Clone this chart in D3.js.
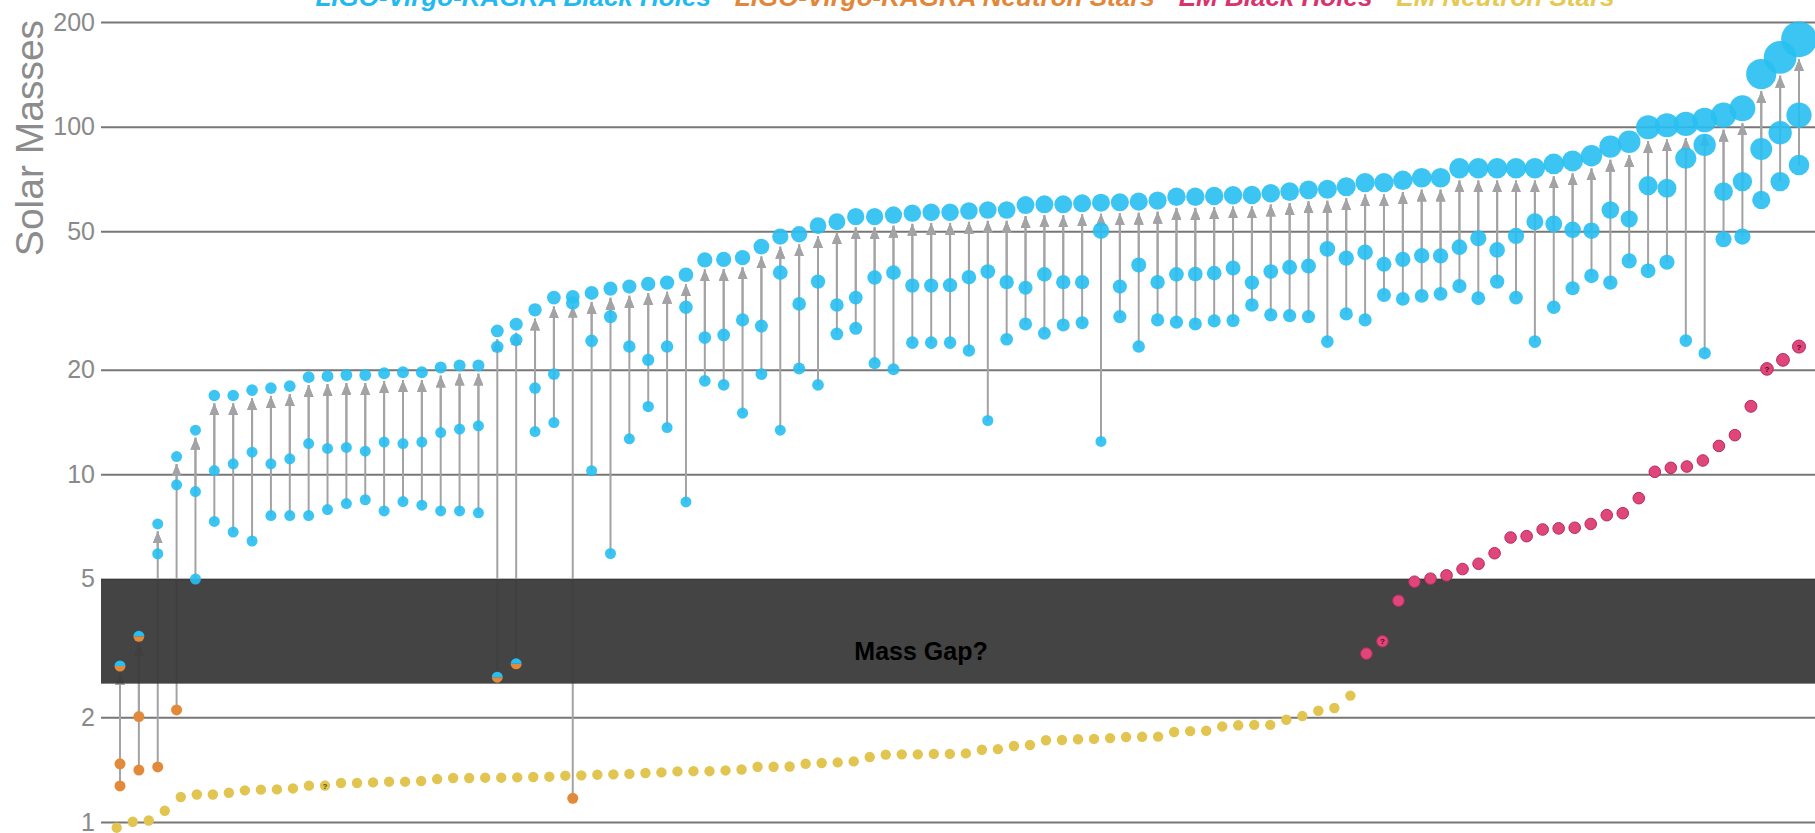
<!DOCTYPE html>
<html>
<head>
<meta charset="utf-8">
<script src="https://cdn.jsdelivr.net/npm/d3@7"></script>
<style>
  body { margin: 0; background: #fff; }
  svg { display: block; font-family: "Liberation Sans", Arial, Helvetica, sans-serif; }
</style>
</head>
<body>
<svg id="chart" width="1815" height="833"></svg>
<script>
// Gravitational-wave mergers: remnant mass and the two component masses (solar masses)
const gwFinal = [2.81,3.42,7.2,11.25,13.4,16.85,16.85,17.46,17.7,17.93,
  19.03,19.16,19.3,19.3,19.54,19.67,19.67,20.28,20.55,20.55,
  25.85,27.03,29.72,32.24,32.4,33.25,34.2,34.67,35.3,35.6,
  37.5,41.4,41.5,42.0,45.2,48.3,49.05,51.9,53.3,55.1,
  55.1,55.7,56.4,56.75,56.75,57.2,57.6,57.6,59.5,59.8,
  59.8,60.2,60.45,60.6,60.86,61.3,62.9,62.9,63.2,63.5,
  63.6,64.35,65.04,65.8,66.07,67.2,69.0,69.0,70.1,71.3,
  71.3,75.9,75.9,75.9,75.9,75.9,78.1,79.7,82.5,87.6,
  90.5,99.6,100.9,101.8,104.5,108.0,112.9,141.7,158.3,178.4];
const gwPrimary = [1.47,2.01,5.91,9.33,8.92,10.25,10.72,11.58,10.72,11.08,
  12.26,11.87,11.95,11.66,12.38,12.26,12.38,13.19,13.49,13.79,
  23.26,24.36,17.7,19.42,31.1,24.2,28.43,23.3,21.34,23.3,
  30.25,24.74,25.18,27.8,26.7,38.03,30.92,35.84,30.7,32.24,
  36.8,38.03,34.9,34.9,35.0,36.9,38.3,35.7,34.4,37.6,
  35.7,35.7,50.2,34.67,40.03,35.7,37.6,37.7,37.9,39.2,
  35.6,38.3,39.4,39.76,44.5,41.84,43.5,40.2,41.5,42.56,
  42.5,45.0,47.76,44.2,48.5,53.3,52.5,50.5,50.2,57.6,
  54.3,67.65,66.5,81.1,88.6,65.04,69.5,86.3,96.1,108.0];
const gwSecondary = [1.27,1.41,1.44,2.10,5.0,7.32,6.82,6.43,7.61,7.61,
  7.61,7.92,8.24,8.45,7.85,8.35,8.15,7.85,7.85,7.75,
  2.61,2.85,13.27,14.09,1.17,10.24,5.92,12.65,15.66,13.63,
  8.33,18.57,18.08,15.0,19.42,13.4,20.15,18.08,25.34,26.3,
  20.88,20.07,23.93,23.93,23.93,22.7,14.28,24.47,27.08,25.46,
  26.9,27.3,12.43,28.43,23.3,27.8,27.4,27.08,27.62,27.7,
  30.7,28.75,28.6,28.43,24.09,28.94,27.8,32.8,31.96,32.6,
  33.04,34.8,32.1,35.84,32.24,24.09,30.25,34.3,37.2,35.6,
  41.1,38.5,40.75,24.25,22.3,47.45,48.3,61.55,69.5,77.6];

// Electromagnetically observed compact objects (solar masses)
const emNeutronStars = [0.963,1.002,1.01,1.077,1.18,1.20,1.20,1.214,1.233,1.239,
  1.241,1.249,1.272,1.273,1.295,1.295,1.30,1.306,1.306,1.312,
  1.329,1.338,1.338,1.341,1.341,1.344,1.347,1.35,1.359,1.362,
  1.368,1.371,1.375,1.383,1.389,1.398,1.40,1.40,1.407,1.416,
  1.442,1.442,1.444,1.471,1.478,1.484,1.494,1.538,1.562,1.565,
  1.565,1.57,1.57,1.575,1.614,1.62,1.654,1.665,1.718,1.721,
  1.73,1.734,1.743,1.755,1.758,1.76,1.815,1.826,1.83,1.883,
  1.897,1.903,1.903,1.968,2.017,2.089,2.127,2.31];
const emBlackHoles = [3.05,3.31,4.33,4.91,5.01,5.12,5.34,5.53,5.93,6.58,
  6.64,6.94,6.99,7.02,7.20,7.63,7.73,8.54,10.17,10.44,
  10.53,10.96,12.07,12.96,15.69,20.1,21.34,23.31];
// Objects whose nature is uncertain, marked with "?"
const emNSUncertain = [13];
const emBHUncertain = [1, 25, 27];

const yTicks = [1, 2, 5, 10, 20, 50, 100, 200];
const massGap = [2.5, 5];
const legendLabels = ["LIGO-Virgo-KAGRA Black Holes", "LIGO-Virgo-KAGRA Neutron Stars", "EM Black Holes", "EM Neutron Stars"];
const legendColors = ["#22b9ef", "#e0873a", "#d8336e", "#e4ca55"];

const COL = { bh: "#27bff2", ns: "#e38a3a", emBH: "#e0457b", emBHStroke: "#b32d5c", emNS: "#e2c550", line: "#a3a3a6" };

const W = 1815, H = 833, plotLeft = 101;
const svg = d3.select("#chart");

const y = d3.scaleLog().domain([1, 200]).range([822, 22]);
const xGW = d3.scalePoint().domain(d3.range(gwFinal.length)).range([120, 1799]);
const emAll = emNeutronStars.map((m, i) => ({ m, kind: "ns", q: emNSUncertain.includes(i) }))
  .concat(emBlackHoles.map((m, i) => ({ m, kind: "bh", q: emBHUncertain.includes(i) })));
const xEM = d3.scalePoint().domain(d3.range(emAll.length)).range([116.7, 1799]);
const rad = m => Math.max(5.5, 4.5 + 0.075 * m);
const kindOf = m => m < 2.5 ? "ns" : (m < 3.5 ? "mixed" : "bh");

// Y axis with full-width gridlines
const axis = svg.append("g")
  .attr("transform", `translate(${plotLeft},0)`)
  .call(d3.axisLeft(y).tickValues(yTicks).tickFormat(d3.format("d"))
    .tickSize(-(W - plotLeft)).tickPadding(6));
axis.select(".domain").remove();
axis.selectAll(".tick line").attr("stroke", "#777").attr("stroke-width", 2);
axis.selectAll(".tick text").attr("fill", "#8a8a8a").attr("font-size", 25)
  .attr("font-family", "'Liberation Sans', Arial, sans-serif");

svg.append("text")
  .attr("transform", `translate(43,138) rotate(-90)`)
  .attr("text-anchor", "middle")
  .attr("fill", "#8c8c8c").attr("font-size", 39)
  .text("Solar Masses");

// Arrow marker for merger lines
svg.append("defs").append("marker")
  .attr("id", "arrow").attr("viewBox", "0 -5 12 10")
  .attr("refX", 12).attr("refY", 0)
  .attr("markerWidth", 12).attr("markerHeight", 10)
  .attr("markerUnits", "userSpaceOnUse").attr("orient", "auto")
  .append("path").attr("d", "M0,-5L12,0L0,5Z").attr("fill", COL.line);

// Lines from each component up to the remnant
const links = [];
gwFinal.forEach((f, i) => {
  [gwPrimary[i], gwSecondary[i]].forEach(c => {
    const y1 = y(c), y2 = y(f) + rad(f) + 2;
    if (y1 - y2 > 4) links.push({ x: xGW(i), y1, y2 });
  });
});
svg.append("g").selectAll("line").data(links).join("line")
  .attr("x1", d => d.x).attr("x2", d => d.x)
  .attr("y1", d => d.y1).attr("y2", d => d.y2)
  .attr("stroke", COL.line).attr("stroke-width", 2)
  .attr("marker-end", "url(#arrow)");

// Mass gap band
svg.append("rect")
  .attr("x", plotLeft).attr("width", W - plotLeft)
  .attr("y", y(massGap[1])).attr("height", y(massGap[0]) - y(massGap[1]))
  .attr("fill", "#3a3a3a").attr("opacity", 0.95);
svg.append("text")
  .attr("x", 921).attr("y", 660).attr("text-anchor", "middle")
  .attr("font-size", 25).attr("font-weight", "bold").attr("fill", "#000")
  .text("Mass Gap?");

// EM objects
const em = svg.append("g");
em.selectAll("circle").data(emAll).join("circle")
  .attr("cx", (d, i) => xEM(i)).attr("cy", d => y(d.m))
  .attr("r", d => d.kind === "ns" ? 5.2 : rad(d.m) + 0.3)
  .attr("fill", d => d.kind === "ns" ? COL.emNS : COL.emBH)
  .attr("stroke", d => d.kind === "ns" ? "none" : COL.emBHStroke)
  .attr("stroke-width", 1);
em.selectAll("text").data(emAll.map((d, i) => ({ ...d, i })).filter(d => d.q)).join("text")
  .attr("x", d => xEM(d.i)).attr("y", d => y(d.m) + 3)
  .attr("text-anchor", "middle").attr("font-size", 8).attr("font-weight", "bold")
  .attr("fill", d => d.kind === "ns" ? "#5a4a10" : "#4a0820")
  .text("?");

// GW component and remnant masses
const dots = [];
gwFinal.forEach((f, i) => {
  dots.push({ i, m: gwPrimary[i] });
  dots.push({ i, m: gwSecondary[i] });
  dots.push({ i, m: f });
});
const gw = svg.append("g");
const arcTop = d3.arc().innerRadius(0).startAngle(-Math.PI / 2).endAngle(Math.PI / 2);
const arcBot = d3.arc().innerRadius(0).startAngle(Math.PI / 2).endAngle(3 * Math.PI / 2);
dots.forEach(d => {
  const k = kindOf(d.m), cx = xGW(d.i), cy = y(d.m);
  if (k === "mixed") {
    const g = gw.append("g").attr("transform", `translate(${cx},${cy})`);
    g.append("path").attr("d", arcBot({ outerRadius: 5.5 })).attr("fill", COL.ns);
    g.append("path").attr("d", arcTop({ outerRadius: 5.5 })).attr("fill", COL.bh);
  } else {
    gw.append("circle").attr("cx", cx).attr("cy", cy)
      .attr("r", k === "ns" ? 5.5 : rad(d.m))
      .attr("fill", k === "ns" ? COL.ns : COL.bh)
      .attr("fill-opacity", k === "ns" ? 1 : 0.9);
  }
});

// Legend along the top edge
const legend = svg.append("g").attr("font-size", 26).attr("font-style", "italic").attr("font-weight", "bold");
let lx = 0;
legendLabels.forEach((t, i) => {
  const tx = legend.append("text").attr("x", lx).attr("y", 6).attr("fill", legendColors[i]).text(t);
  lx += tx.node().getComputedTextLength() + 24;
});
const totalW = lx - 24;
legend.attr("transform", `translate(${965 - totalW / 2},0)`);
</script>
</body>
</html>
